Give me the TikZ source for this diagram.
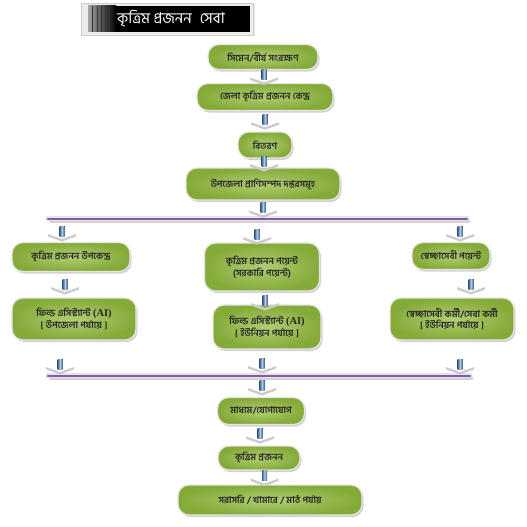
\documentclass[tikz,border=0pt]{standalone}
\usepackage{fontspec}
\newfontfamily\bn[Script=Bengali]{Hind Siliguri}
\newfontfamily\lbfb[UprightFont={* Bold}]{Liberation Serif}
\usetikzlibrary{shadows,calc}
\definecolor{gedge}{HTML}{84AA38}
\definecolor{gin}{HTML}{AFCE72}
\definecolor{bblue}{HTML}{4F81BD}
\definecolor{barp}{HTML}{7D5F9E}
\definecolor{barl}{HTML}{EADFF3}
\begin{document}
\begin{tikzpicture}[x=1pt,y=-1pt,
  gbox/.style={rounded corners=11pt, inner color=gin, outer color=gedge,
    draw=white!80!gray, line width=1.2pt, font=\bn\bfseries\fontsize{9.3}{11.5}\selectfont,
    align=center, inner sep=2pt, text=black!85,
    drop shadow={shadow xshift=1.5pt, shadow yshift=-2pt, fill=gray!45, opacity=0.8}},
  dnarrow/.pic={
    \fill[gray!40] (-14,1) -- (0,6) -- (14,1) -- (14,3.5) -- (0,8.5) -- (-14,3.5) -- cycle;
    \fill[left color=bblue!75!black, right color=bblue!75!black, middle color=bblue!45] (-2.5,-7) rectangle (2.5,3);
  },
  hbar/.style={line cap=round}
]
\useasboundingbox[fill=white] (0,0) rectangle (527,527);

% title
\path[fill=gray!15, draw=gray!40, drop shadow={shadow xshift=1.5pt, shadow yshift=-1.5pt, fill=gray!40}] (81,3) rectangle (253,35);
\fill[black] (88,6) rectangle (250,32);
\fill[left color=gray!70, right color=black] (88,6) rectangle (116,32);
\foreach \xx in {92,97,101,105,109}{\fill[black!80] (\xx,6) rectangle (\xx+1.2,32);}
\node[text=white, font=\bn\fontsize{15}{16}\selectfont, anchor=west, inner sep=1pt] (title) at (116,19) {কৃত্রিম প্রজনন\hspace{8pt}সেবা};

% main column
\node[gbox, minimum width=110, minimum height=25] (n1) at (263,57) {সিমেন/বীর্য সংরক্ষণ};
\node[gbox, minimum width=136, minimum height=27] (n2) at (265,97) {জেলা কৃত্রিম প্রজনন কেন্দ্র};
\node[gbox, minimum width=54, minimum height=26] (n3) at (265,145) {বিতরণ};
\node[gbox, minimum width=154, minimum height=32] (n4) at (263,184) {উপজেলা প্রাণিসম্পদ দপ্তরসমূহ};

% three columns
\node[gbox, minimum width=118, minimum height=29] (l1) at (71,257) {কৃত্রিম প্রজনন উপকেন্দ্র};
\node[gbox, minimum width=115, minimum height=48] (m1) at (262,267) {কৃত্রিম প্রজনন পয়েন্ট\\(সরকারি পয়েন্ট)};
\node[gbox, minimum width=78, minimum height=27] (r1) at (451,256) {স্বেচ্ছাসেবী পয়েন্ট};
\node[gbox, minimum width=124, minimum height=42] (l2) at (74,319) {ফিল্ড এসিস্ট্যান্ট {\lbfb\fontsize{10.5}{11}\selectfont(AI)}\\{\lbfb[} উপজেলা পর্যায়ে {\lbfb]}};
\node[gbox, minimum width=108, minimum height=44] (m2) at (267,327) {ফিল্ড এসিস্ট্যান্ট {\lbfb\fontsize{10.5}{11}\selectfont(AI)}\\{\lbfb[} ইউনিয়ন পর্যায়ে {\lbfb]}};
\node[gbox, minimum width=124, minimum height=42] (r2) at (452,319) {স্বেচ্ছাসেবী কর্মী/সেবা কর্মী\\{\lbfb[} ইউনিয়ন পর্যায়ে {\lbfb]}};

% bottom column
\node[gbox, minimum width=87, minimum height=27] (b1) at (261,411) {মাধ্যম/যোগাযোগ};
\node[gbox, minimum width=82, minimum height=24] (b2) at (259,458) {কৃত্রিম প্রজনন};
\node[gbox, minimum width=184, minimum height=30] (b3) at (270,500) {সরাসরি / খামারে / মাঠ পর্যায়};

% bars
\coordinate (ub1) at (48,218);
\coordinate (ub2) at (467,218);
\coordinate (lb1) at (48,375);
\coordinate (lb2) at (470,375);
\foreach \a/\b in {ub1/ub2,lb1/lb2}{
  \draw[hbar, gray!35, line width=3pt] ($(\a)+(2,3)$) -- ($(\b)+(2,3)$);
  \draw[hbar, barl, line width=5pt] (\a) -- (\b);
  \draw[hbar, barp, line width=2.2pt] ($(\a)+(0,0.8)$) -- ($(\b)+(0,0.8)$);
}

% arrows
\coordinate (a1) at ($(n1.south)!.5!(n2.north)$);
\coordinate (a2) at ($(n2.south)!.5!(n3.north)$);
\coordinate (a3) at ($(n3.south)!.5!(n4.north)$);
\coordinate (a4) at ($(n4.south)!.5!(263,218)$);
\foreach \c in {a1,a2,a3,a4}{\pic at (\c) {dnarrow};}
\pic at (62,233) {dnarrow};
\pic at (257,236) {dnarrow};
\pic at (460,233) {dnarrow};
\pic at (65,286) {dnarrow};
\pic at (265,302) {dnarrow};
\pic at (471,286) {dnarrow};
\pic at (60,366) {dnarrow};
\pic at (262,365) {dnarrow};
\pic at (460,366) {dnarrow};
\pic at (262,387) {dnarrow};
\coordinate (a5) at ($(b1.south)!.5!(b2.north)$);
\coordinate (a6) at ($(b2.south)!.5!(b3.north)$);
\pic at (a5) {dnarrow};
\pic at (a6) {dnarrow};
\end{tikzpicture}
\end{document}
